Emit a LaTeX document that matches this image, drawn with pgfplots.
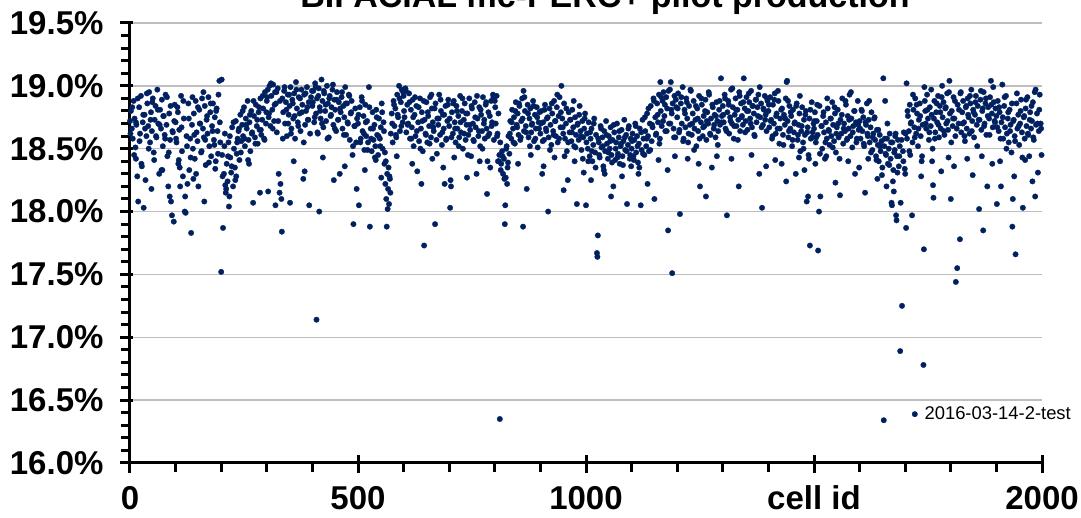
\documentclass[border=0pt]{standalone}
\usepackage{fontspec}
\setmainfont{Liberation Sans}
\usepackage{pgfplots}
\pgfplotsset{compat=1.18}
\definecolor{navy}{RGB}{0,32,96}
\definecolor{gridgray}{RGB}{190,190,190}
\pgfplotsset{dotlegend/.style={legend image code/.code={\draw[##1] plot coordinates {(0pt,0pt)};}}}
\begin{document}
\begin{tikzpicture}
\begin{axis}[
  scale only axis,
  width=912pt, height=440pt,
  xmin=0, xmax=2000, ymin=16, ymax=19.5,
  axis x line=bottom, axis y line=left,
  axis line style={line width=3pt, -},
  xtick={0,500,1000,1500,2000},
  xticklabels={0,500,1000,cell id,2000},
  ytick={16,16.5,17,17.5,18,18.5,19,19.5},
  minor x tick num=4, minor y tick num=4,
  tick align=outside,
  major tick length=10pt, minor tick length=9pt,
  every tick/.style={black, line width=3pt},
  ymajorgrids, major grid style={gridgray, line width=1.4pt},
  extra x ticks={500,1000,1500,2000},
  extra x tick style={tick align=inside, major tick length=8pt, xticklabel={}, grid=none},
  extra y ticks={16,16.5,17,17.5,18,18.5,19,19.5},
  extra y tick style={tick align=inside, major tick length=3pt, yticklabel={}, grid=none},
  scaled y ticks=false,
  /pgf/number format/assume math mode=true,
  yticklabel={\pgfmathprintnumber[fixed,fixed zerofill,precision=1]{\tick}\%},
  ticklabel style={font=\bfseries\fontsize{33}{36}\selectfont},
  yticklabel style={anchor=east, xshift=-13pt},
  xticklabel style={anchor=base, yshift=-37pt},
  clip=false,
  legend style={at={(axis description cs:0.854,0.111)}, anchor=west, draw=none, fill=none,
    font=\fontsize{18.4}{20}\selectfont, nodes={inner sep=0pt},
    /tikz/every odd column/.append style={column sep=7pt}},
  legend cell align=left,
]
\addplot[only marks, mark=*, mark size=2.75pt, color=navy, mark options={fill=navy, draw=navy, line width=0.3pt}, dotlegend]
coordinates {
(0,18.72)(2,18.80)(4,18.66)(6,18.58)(8,18.88)(10,18.74)(12,18.51)(14,18.69)(16,18.28)(18,18.08)(20,18.83)(22,18.62)(24,18.92)(26,18.36)(28,18.71)(30,18.03)(32,18.77)(34,18.25)(36,18.60)(38,18.86)(40,18.68)(42,18.95)(44,18.55)(46,18.79)(48,18.64)(50,18.90)(52,18.47)(54,18.73)(56,18.84)(58,18.59)(60,18.97)(62,18.70)(64,18.30)(66,18.81)(68,18.66)(70,18.89)(72,18.52)(74,18.76)(76,18.61)(78,18.93)(80,18.69)(82,18.44)(84,18.20)(86,18.78)(88,18.57)(90,18.08)(92,17.97)(94,18.63)(96,17.92)(98,18.85)
(100,18.71)(102,18.55)(104,18.83)(106,18.38)(108,18.65)(110,18.20)(112,18.92)(114,18.48)(116,18.28)(118,18.74)(120,18.00)(122,17.99)(124,18.60)(126,18.22)(128,18.86)(130,18.33)(132,18.58)(134,17.83)(136,18.69)(138,18.50)(140,18.78)(142,18.42)(144,18.88)(146,18.63)(148,18.56)(150,18.20)(152,18.81)(154,18.70)(156,18.47)(158,18.90)(160,18.66)(162,18.59)(164,18.84)(166,18.37)(168,18.73)(170,18.62)(172,18.91)(174,18.52)(176,18.79)(178,18.44)(180,18.68)(182,18.86)(184,18.57)(186,18.75)(188,18.40)(190,18.82)(192,18.64)(194,18.93)(196,19.04)(198,18.55)
(200,17.52)(201,19.05)(202,18.45)(204,17.87)(206,18.30)(208,18.62)(210,18.15)(212,18.38)(214,18.24)(216,18.55)(218,18.12)(220,18.43)(222,18.31)(224,18.67)(226,18.20)(228,18.50)(230,18.35)(232,18.72)(234,18.46)(236,18.58)(238,18.64)(240,18.41)(242,18.77)(244,18.56)(246,18.69)(248,18.60)(250,18.83)(252,18.52)(254,18.74)(256,18.66)(258,18.88)(260,18.57)(262,18.71)(264,18.48)(266,18.80)(268,18.63)(270,18.07)(272,18.76)(274,18.59)(276,18.85)(278,18.68)(280,18.54)(282,18.79)(284,18.65)(286,18.90)(288,18.61)(290,18.73)(292,18.82)(294,18.58)(296,18.95)(298,18.70)
(300,18.88)(302,18.97)(304,18.75)(306,19.00)(308,18.68)(310,18.92)(312,18.81)(314,19.01)(316,18.72)(318,18.95)(320,18.86)(322,18.63)(324,18.98)(326,18.30)(328,18.15)(330,18.22)(332,18.10)(333,17.84)(334,18.90)(336,18.79)(338,18.96)(340,18.70)(342,18.87)(344,18.60)(346,18.93)(348,18.77)(350,18.84)(351,18.07)(352,18.99)(354,18.66)(356,18.89)(358,18.74)(360,18.94)(362,18.58)(364,19.03)(366,18.82)(368,18.71)(370,18.91)(372,18.78)(374,18.64)(376,18.97)(378,18.85)(380,18.26)(382,18.93)(384,18.69)(386,18.80)(388,18.99)(390,18.73)(392,18.87)(393,18.05)(395,18.62)(397,18.91)
(400,18.84)(402,18.96)(404,18.71)(406,19.02)(408,18.78)(409,17.14)(410,18.90)(412,18.62)(414,18.98)(415,18.00)(416,18.83)(418,18.74)(420,19.05)(422,18.88)(424,18.67)(426,18.94)(428,18.80)(430,18.72)(432,19.00)(434,18.86)(436,18.59)(438,18.92)(440,18.76)(442,18.83)(444,18.97)(446,18.69)(448,18.89)(450,18.81)(452,18.64)(454,18.95)(456,18.73)(458,18.87)(460,18.30)(462,18.79)(464,18.91)(466,18.66)(468,18.84)(470,18.75)(472,18.99)(474,18.61)(476,18.86)(478,18.70)(480,18.93)(482,18.57)(484,18.78)(486,18.88)(488,18.45)(490,17.90)(492,18.68)(494,18.82)(496,18.55)(498,18.74)
(500,18.70)(502,18.05)(504,18.83)(506,18.58)(508,18.91)(510,18.64)(512,18.76)(514,18.49)(516,18.85)(518,18.60)(520,18.72)(522,18.55)(524,18.99)(526,17.88)(528,18.66)(530,18.48)(532,18.79)(534,18.57)(536,18.69)(538,18.52)(540,18.81)(542,18.61)(544,18.45)(546,18.74)(548,18.58)(550,18.67)(552,18.86)(554,18.50)(556,18.71)(558,18.38)(560,18.22)(561,18.40)(562,18.10)(563,17.88)(564,18.30)(565,18.02)(566,18.18)(567,18.35)(568,18.06)(570,18.26)(572,18.62)(574,18.78)(576,18.55)(578,18.88)(580,18.68)(582,18.82)(584,18.59)(586,18.93)(588,18.75)(590,19.00)(592,18.64)(594,18.87)(596,18.97)(598,18.71)
(600,18.92)(602,18.75)(604,18.98)(606,18.63)(608,18.85)(610,18.70)(612,18.94)(614,18.58)(616,18.81)(618,18.67)(620,18.89)(622,18.52)(624,18.77)(626,18.60)(628,18.84)(630,18.32)(632,18.71)(634,18.56)(636,18.90)(638,18.66)(640,18.79)(642,18.48)(645,17.73)(646,18.73)(648,18.62)(650,18.87)(652,18.55)(654,18.76)(656,18.68)(658,18.91)(660,18.59)(662,18.82)(664,18.71)(666,18.64)(669,17.90)(670,18.86)(672,18.57)(674,18.74)(676,18.69)(678,18.93)(680,18.61)(682,18.80)(684,18.53)(686,18.77)(688,18.66)(690,18.22)(692,18.84)(694,18.58)(696,18.72)(698,18.89)
(700,18.68)(702,18.03)(703,18.25)(704,18.20)(706,18.79)(708,18.62)(710,18.88)(712,18.71)(714,18.55)(716,18.84)(718,18.66)(720,18.76)(722,18.59)(724,18.92)(726,18.63)(728,18.80)(730,18.50)(732,18.73)(734,18.86)(736,18.57)(738,18.69)(740,18.78)(742,18.61)(744,18.90)(746,18.65)(748,18.44)(750,18.82)(752,18.70)(754,18.56)(756,18.87)(758,18.67)(760,18.30)(762,18.74)(764,18.60)(766,18.83)(768,18.52)(770,18.77)(772,18.64)(774,18.91)(776,18.70)(778,18.58)(780,18.85)(782,18.66)(784,18.40)(786,18.79)(788,18.62)(790,18.35)(792,18.88)(794,18.71)(796,18.93)(798,18.57)
(800,18.88)(802,18.70)(804,18.92)(806,18.62)(808,18.78)(810,18.45)(811,16.35)(812,18.55)(814,18.38)(816,18.48)(818,18.30)(820,18.42)(822,17.90)(823,18.05)(824,18.27)(826,18.52)(828,18.35)(830,18.60)(832,18.46)(834,18.72)(836,18.58)(838,18.81)(840,18.66)(842,18.75)(844,18.54)(846,18.87)(848,18.69)(850,18.78)(852,18.61)(854,18.84)(856,18.57)(858,18.72)(860,18.90)(862,17.88)(863,18.96)(864,18.64)(866,18.80)(868,18.68)(870,18.18)(872,18.85)(874,18.59)(876,18.74)(878,18.82)(880,18.63)(882,18.70)(884,18.88)(886,18.56)(888,18.77)(890,18.66)(892,18.83)(894,18.51)(896,18.71)(898,18.79)
(900,18.62)(902,18.80)(904,18.30)(906,18.71)(908,18.57)(910,18.85)(912,18.66)(914,18.74)(917,18.00)(918,18.59)(920,18.82)(922,18.69)(924,18.53)(926,18.78)(928,18.64)(930,18.88)(932,18.72)(934,18.60)(936,18.83)(938,18.55)(940,18.76)(942,18.91)(944,18.67)(946,19.00)(948,18.74)(950,18.62)(952,18.86)(954,18.58)(956,18.70)(958,18.48)(960,18.25)(962,18.79)(964,18.63)(966,18.73)(968,18.56)(970,18.81)(972,18.67)(974,18.52)(976,18.75)(978,18.61)(980,18.06)(982,18.70)(984,18.57)(986,18.84)(988,18.64)(990,18.49)(992,18.72)(994,18.59)(996,18.66)(998,18.78)
(1000,18.05)(1002,18.62)(1004,18.50)(1006,18.71)(1008,18.44)(1010,18.58)(1012,18.66)(1014,18.40)(1016,18.53)(1018,18.74)(1020,18.47)(1022,18.61)(1024,17.67)(1025,17.64)(1026,17.81)(1028,18.55)(1030,18.43)(1032,18.68)(1034,18.51)(1036,18.59)(1038,18.36)(1040,18.64)(1042,18.48)(1044,18.72)(1046,18.54)(1048,18.42)(1050,18.60)(1052,18.50)(1054,18.67)(1056,18.45)(1058,18.57)(1060,18.20)(1062,18.63)(1064,18.41)(1066,18.55)(1068,18.70)(1070,18.46)(1072,18.59)(1074,18.38)(1076,18.52)(1078,18.65)(1080,18.44)(1082,18.56)(1084,18.73)(1086,18.49)(1088,18.61)(1090,18.06)(1092,18.53)(1094,18.68)(1096,18.42)(1098,18.58)
(1100,18.50)(1102,18.62)(1104,18.44)(1106,18.57)(1108,18.70)(1110,18.47)(1112,18.60)(1114,18.39)(1116,18.54)(1118,18.66)(1120,18.05)(1122,18.49)(1124,18.73)(1126,18.58)(1128,18.45)(1130,18.64)(1132,18.52)(1134,18.78)(1136,18.60)(1138,18.48)(1140,18.70)(1142,18.84)(1144,18.56)(1146,18.67)(1148,18.90)(1150,18.10)(1152,18.75)(1154,18.62)(1156,18.86)(1158,18.71)(1160,18.93)(1162,18.58)(1163,19.03)(1164,18.80)(1166,18.68)(1168,18.88)(1170,18.95)(1172,18.76)(1174,18.64)(1176,18.91)(1178,18.82)(1180,17.85)(1182,18.70)(1184,18.97)(1186,19.03)(1188,18.78)(1189,17.51)(1190,18.86)(1192,18.66)(1194,18.92)(1196,18.59)(1198,18.83)
(1200,18.75)(1202,18.94)(1204,18.63)(1206,17.98)(1208,18.86)(1210,18.70)(1212,18.99)(1214,18.58)(1216,18.81)(1218,18.67)(1220,18.90)(1222,18.74)(1224,18.55)(1226,18.84)(1228,18.69)(1230,18.96)(1232,18.61)(1234,18.78)(1236,18.88)(1238,18.66)(1240,18.73)(1242,18.52)(1244,18.82)(1246,18.64)(1248,18.92)(1250,18.20)(1252,18.71)(1254,18.85)(1256,18.60)(1258,18.76)(1260,18.68)(1262,18.89)(1264,18.57)(1266,18.79)(1268,18.70)(1270,18.93)(1272,18.62)(1274,18.74)(1276,18.35)(1278,18.83)(1280,18.66)(1282,18.77)(1284,18.59)(1286,18.87)(1288,18.72)(1290,18.64)(1292,18.81)(1294,18.69)(1296,19.06)(1298,18.76)
(1300,18.84)(1302,18.71)(1304,18.93)(1306,18.66)(1309,17.97)(1310,18.79)(1312,18.88)(1314,18.62)(1316,18.75)(1318,18.97)(1320,18.70)(1322,18.83)(1324,18.58)(1326,18.77)(1328,18.90)(1330,18.68)(1332,18.81)(1334,18.73)(1336,18.95)(1338,18.64)(1340,18.86)(1342,18.76)(1344,18.69)(1346,19.06)(1348,18.82)(1350,18.72)(1352,18.91)(1354,18.65)(1356,18.80)(1358,18.87)(1360,18.74)(1362,18.96)(1364,18.67)(1366,18.84)(1368,18.78)(1370,18.60)(1372,18.89)(1374,18.71)(1376,18.83)(1378,18.93)(1380,18.30)(1382,18.75)(1384,18.86)(1386,18.03)(1388,18.69)(1390,18.81)(1392,18.92)(1394,18.77)(1396,18.64)(1398,18.88)
(1400,18.80)(1402,18.67)(1404,18.91)(1406,18.73)(1408,18.58)(1410,18.85)(1412,18.70)(1414,18.94)(1416,18.62)(1418,18.78)(1420,18.66)(1422,18.88)(1424,18.54)(1426,18.74)(1429,18.38)(1430,18.82)(1432,18.61)(1434,18.77)(1436,18.69)(1438,18.90)(1440,19.03)(1441,19.04)(1442,18.72)(1444,18.59)(1446,18.84)(1448,18.66)(1450,18.76)(1452,18.52)(1454,18.81)(1456,18.63)(1458,18.71)(1460,18.30)(1462,18.86)(1464,18.57)(1466,18.69)(1468,18.78)(1470,18.48)(1472,18.64)(1474,18.83)(1476,18.55)(1478,18.73)(1480,18.61)(1482,18.80)(1484,18.08)(1486,18.67)(1487,18.12)(1488,18.45)(1490,18.74)(1491,17.73)(1493,18.58)(1495,18.87)(1497,18.63)(1499,18.70)
(1500,18.66)(1502,18.79)(1504,18.55)(1506,18.72)(1508,18.61)(1509,17.69)(1511,18.00)(1512,18.84)(1514,18.12)(1516,18.68)(1518,18.50)(1520,18.76)(1522,18.63)(1524,18.42)(1526,18.71)(1528,18.58)(1530,18.82)(1532,18.65)(1534,18.53)(1536,18.74)(1538,18.60)(1540,18.87)(1542,18.69)(1544,18.56)(1546,18.78)(1548,18.47)(1550,18.67)(1552,18.81)(1554,18.59)(1557,18.13)(1558,18.73)(1560,18.62)(1562,18.90)(1564,18.54)(1566,18.70)(1568,18.64)(1570,18.85)(1572,18.57)(1574,18.76)(1576,18.66)(1578,18.93)(1580,18.60)(1582,18.74)(1584,18.51)(1586,18.68)(1588,18.80)(1590,18.30)(1592,18.71)(1594,18.58)(1596,18.88)(1598,18.65)
(1600,18.72)(1602,18.58)(1604,18.81)(1606,18.64)(1608,18.75)(1610,18.52)(1612,18.15)(1614,18.69)(1616,18.86)(1618,18.60)(1620,18.73)(1622,18.55)(1624,18.67)(1626,18.79)(1628,18.49)(1630,18.62)(1632,18.74)(1634,18.57)(1636,18.44)(1638,18.65)(1640,18.53)(1642,18.40)(1644,18.61)(1646,18.48)(1648,18.56)(1650,18.35)(1652,19.06)(1653,16.34)(1654,18.52)(1656,18.88)(1658,18.45)(1660,18.58)(1662,18.38)(1664,18.50)(1666,18.62)(1668,18.42)(1670,18.07)(1671,18.05)(1672,18.55)(1674,18.33)(1676,18.47)(1678,18.60)(1680,17.97)(1681,17.93)(1682,18.44)(1684,18.57)(1686,18.36)(1688,18.52)(1689,16.89)(1690,18.07)(1693,17.25)(1695,18.48)(1697,18.63)
(1700,18.30)(1702,17.87)(1703,19.02)(1704,18.58)(1706,18.76)(1708,18.64)(1710,18.85)(1712,18.70)(1715,17.97)(1716,18.55)(1718,18.81)(1720,18.67)(1722,18.90)(1724,18.62)(1726,18.78)(1728,18.52)(1730,18.73)(1732,18.86)(1734,18.60)(1736,18.40)(1738,18.69)(1740,16.78)(1741,17.70)(1742,18.99)(1744,18.80)(1746,18.66)(1748,18.93)(1750,18.74)(1752,18.57)(1754,18.83)(1756,18.68)(1758,18.77)(1760,18.50)(1761,18.21)(1762,18.11)(1764,18.88)(1766,18.63)(1768,18.79)(1770,18.71)(1772,18.92)(1774,18.59)(1776,18.84)(1778,18.66)(1781,19.00)(1782,18.75)(1784,18.87)(1786,18.61)(1788,18.82)(1790,18.70)(1792,18.94)(1794,18.65)(1797,19.04)(1798,18.78)
(1800,18.10)(1802,18.80)(1804,18.68)(1806,18.91)(1808,18.74)(1810,18.60)(1811,17.44)(1814,17.55)(1815,18.85)(1817,18.70)(1820,17.78)(1821,18.94)(1823,18.63)(1825,18.79)(1827,18.88)(1829,18.71)(1831,18.56)(1833,18.83)(1835,18.66)(1837,18.90)(1839,18.75)(1841,18.62)(1843,18.86)(1845,18.97)(1847,18.72)(1849,18.81)(1851,18.59)(1853,18.77)(1855,18.92)(1857,18.69)(1859,18.84)(1862,18.02)(1863,18.73)(1865,18.89)(1867,18.65)(1869,18.80)(1871,17.85)(1872,18.95)(1874,18.70)(1876,18.86)(1878,18.61)(1880,18.20)(1882,18.83)(1884,18.74)(1886,18.91)(1888,19.04)(1890,18.78)(1892,18.67)(1894,18.87)(1896,18.72)(1898,18.82)
(1900,18.76)(1901,18.06)(1903,18.88)(1905,18.64)(1907,18.79)(1910,18.20)(1911,18.71)(1913,19.01)(1915,18.58)(1917,18.84)(1919,18.67)(1921,18.92)(1923,18.62)(1925,18.74)(1927,18.55)(1929,18.81)(1931,18.69)(1933,18.47)(1935,17.88)(1936,18.10)(1938,18.73)(1940,18.60)(1942,17.66)(1944,18.86)(1946,18.66)(1948,18.77)(1950,18.53)(1952,18.70)(1954,18.89)(1956,18.63)(1958,18.03)(1960,18.75)(1962,18.58)(1964,18.82)(1966,18.68)(1968,18.91)(1970,18.61)(1972,18.44)(1974,18.79)(1976,18.66)(1978,18.72)(1980,18.87)(1982,18.57)(1984,18.95)(1985,18.12)(1987,18.69)(1989,18.78)(1991,18.31)(1993,18.64)(1995,18.93)(1997,18.70)
(1,18.62)(5,18.83)(9,18.45)(13,18.71)(17,18.90)(21,18.56)(25,18.38)(29,18.77)(33,18.66)(37,18.94)(41,18.50)(45,18.73)(49,18.87)(53,18.41)(57,18.60)(61,18.81)(65,18.69)(69,18.33)(73,18.76)(77,18.58)(81,18.91)(85,18.47)(89,18.84)(93,18.64)(97,18.72)
(101,18.58)(105,18.79)(109,18.35)(113,18.67)(117,18.88)(121,18.12)(125,18.52)(129,18.74)(133,18.43)(137,18.91)(141,18.61)(145,18.30)(149,18.83)(153,18.70)(157,18.48)(161,18.95)(165,18.57)(169,18.76)(173,18.39)(177,18.86)(181,18.64)(185,18.53)(189,18.80)(193,18.46)(197,18.71)
(203,18.28)(207,18.52)(211,18.18)(215,18.44)(219,18.60)(223,18.36)(227,18.71)(231,18.25)(235,18.55)(239,18.66)(243,18.47)(247,18.80)(251,18.58)(255,18.69)(259,18.41)(263,18.77)(267,18.62)(271,18.88)(275,18.54)(279,18.73)(283,18.83)(287,18.65)(291,18.92)(295,18.57)(299,18.79)
(301,18.91)(305,18.78)(309,19.02)(313,18.66)(317,18.85)(321,18.95)(325,18.72)(329,18.88)(335,18.58)(339,18.99)(343,18.81)(347,18.70)(349,18.93)(353,18.62)(357,18.86)(361,18.76)(365,18.97)(369,18.68)(373,18.90)(377,18.79)(381,18.55)(385,18.94)(389,18.83)(391,18.73)(399,18.96)
(401,18.87)(405,18.75)(407,18.99)(411,18.63)(413,18.92)(417,18.80)(421,18.70)(425,18.96)(429,18.85)(433,18.58)(437,18.90)(441,18.77)(445,19.01)(449,18.66)(453,18.89)(457,18.73)(461,18.82)(465,18.95)(469,18.61)(473,18.86)(477,18.71)(481,18.92)(485,18.79)(489,18.52)(493,18.68)
(501,18.77)(505,18.55)(509,18.88)(513,18.62)(517,18.71)(521,18.49)(525,18.83)(529,18.58)(533,18.66)(537,18.43)(541,18.75)(545,18.60)(549,18.52)(553,18.79)(557,18.64)(559,18.47)(569,18.28)(571,18.15)(575,18.70)(579,18.85)(583,18.61)(587,18.77)(591,18.90)(595,18.68)(599,18.95)
(601,18.80)(605,18.96)(609,18.69)(613,18.87)(617,18.58)(621,18.75)(625,18.91)(629,18.64)(633,18.83)(637,18.50)(641,18.72)(644,18.88)(649,18.61)(653,18.79)(657,18.54)(661,18.93)(665,18.67)(668,18.82)(673,18.46)(677,18.74)(681,18.89)(685,18.63)(689,18.77)(693,18.57)(697,18.85)
(701,18.74)(705,18.59)(709,18.86)(713,18.66)(717,18.80)(721,18.52)(725,18.71)(729,18.90)(733,18.62)(737,18.78)(741,18.45)(745,18.69)(749,18.84)(753,18.57)(757,18.75)(761,18.92)(765,18.64)(769,18.81)(773,18.50)(777,18.73)(781,18.87)(785,18.60)(789,18.76)(793,18.68)(797,18.91)
(801,18.83)(805,18.60)(809,18.40)(813,18.33)(817,18.44)(821,18.26)(825,18.50)(829,18.39)(833,18.62)(837,18.71)(841,18.55)(845,18.80)(849,18.67)(853,18.86)(857,18.59)(861,18.74)(865,18.91)(869,18.63)(873,18.78)(877,18.52)(881,18.69)(885,18.84)(889,18.58)(893,18.75)(897,18.66)
(901,18.70)(905,18.56)(909,18.81)(913,18.64)(916,18.75)(921,18.49)(925,18.86)(929,18.61)(933,18.72)(937,18.93)(941,18.58)(945,18.79)(949,18.67)(953,18.44)(957,18.82)(961,18.55)(965,18.73)(969,18.63)(973,18.88)(977,18.51)(981,18.69)(985,18.77)(989,18.60)(993,18.42)(997,18.74)
(1001,18.55)(1005,18.40)(1009,18.63)(1013,18.48)(1017,18.70)(1021,18.35)(1027,18.58)(1029,18.45)(1033,18.66)(1037,18.52)(1041,18.30)(1045,18.61)(1049,18.47)(1053,18.56)(1057,18.39)(1061,18.69)(1065,18.50)(1069,18.43)(1073,18.64)(1077,18.54)(1081,18.37)(1085,18.59)(1089,18.48)(1093,18.66)(1097,18.45)
(1101,18.56)(1105,18.41)(1109,18.68)(1113,18.52)(1117,18.35)(1121,18.63)(1125,18.46)(1129,18.75)(1133,18.58)(1137,18.82)(1141,18.49)(1145,18.69)(1149,18.88)(1153,18.61)(1157,18.77)(1161,18.54)(1165,18.91)(1169,18.72)(1173,18.85)(1177,18.64)(1181,18.96)(1185,18.70)(1187,18.81)(1193,18.59)(1197,18.89)
(1201,18.82)(1205,18.65)(1209,18.91)(1213,18.56)(1217,18.78)(1221,18.87)(1225,18.62)(1229,18.97)(1233,18.70)(1237,18.49)(1241,18.84)(1245,18.74)(1249,18.58)(1253,18.90)(1257,18.67)(1261,18.80)(1265,18.72)(1269,18.95)(1273,18.61)(1277,18.85)(1281,18.69)(1285,18.76)(1289,18.53)(1293,18.88)(1297,18.71)
(1301,18.77)(1305,18.90)(1308,18.64)(1313,18.85)(1317,18.72)(1321,18.98)(1325,18.68)(1329,18.81)(1333,18.57)(1337,18.92)(1341,18.75)(1345,18.87)(1349,18.63)(1353,18.80)(1357,18.94)(1361,18.70)(1365,18.84)(1369,18.61)(1373,18.89)(1377,18.76)(1381,18.99)(1385,18.67)(1389,18.82)(1393,18.73)(1397,18.90)
(1401,18.85)(1405,18.72)(1409,18.60)(1413,18.89)(1417,18.76)(1421,18.96)(1425,18.66)(1428,18.81)(1433,18.53)(1437,18.74)(1443,18.88)(1445,18.64)(1449,18.79)(1453,18.57)(1457,18.70)(1461,18.84)(1465,18.61)(1469,18.92)(1473,18.68)(1477,18.50)(1481,18.77)(1485,18.63)(1489,18.42)(1492,18.81)(1496,18.59)
(1501,18.72)(1505,18.59)(1507,18.85)(1513,18.46)(1517,18.68)(1521,18.79)(1525,18.55)(1529,18.90)(1533,18.64)(1537,18.74)(1541,18.51)(1545,18.83)(1549,18.62)(1553,18.70)(1556,18.42)(1561,18.77)(1565,18.66)(1569,18.88)(1573,18.58)(1577,18.73)(1581,18.95)(1585,18.63)(1589,18.80)(1593,18.55)(1597,18.69)
(1601,18.66)(1605,18.80)(1609,18.54)(1613,18.71)(1617,18.62)(1621,18.88)(1625,18.47)(1629,18.59)(1633,18.75)(1637,18.41)(1641,18.65)(1645,18.52)(1649,18.29)(1655,18.58)(1657,18.46)(1661,18.70)(1665,18.37)(1669,18.55)(1673,18.24)(1677,18.49)(1679,18.62)(1683,18.31)(1687,18.44)(1692,18.57)(1696,18.40)
(1701,18.62)(1705,18.80)(1709,18.48)(1713,18.71)(1717,18.93)(1721,18.59)(1725,18.85)(1729,18.66)(1733,18.76)(1737,18.44)(1743,18.88)(1745,18.70)(1749,18.81)(1753,18.63)(1757,18.97)(1763,18.74)(1765,18.58)(1769,18.86)(1773,18.69)(1777,18.79)(1780,18.91)(1785,18.64)(1789,18.83)(1793,18.72)(1796,18.95)
(1801,18.55)(1805,18.74)(1809,18.88)(1813,18.66)(1818,18.81)(1822,18.95)(1826,18.70)(1830,18.60)(1834,18.84)(1838,18.77)(1842,18.92)(1846,18.64)(1850,18.79)(1854,18.87)(1858,18.52)(1861,18.73)(1866,18.96)(1870,18.82)(1873,18.68)(1877,18.90)(1881,18.76)(1885,18.61)(1889,18.85)(1893,18.99)(1897,18.71)
(1902,18.67)(1906,18.83)(1909,18.58)(1914,18.75)(1918,18.91)(1922,18.50)(1926,18.79)(1930,18.64)(1934,18.86)(1937,18.72)(1941,18.56)(1945,18.94)(1949,18.68)(1953,18.80)(1957,18.43)(1961,18.76)(1965,18.89)(1969,18.62)(1973,18.73)(1977,18.84)(1981,18.59)(1986,18.97)(1990,18.70)(1994,18.81)(1998,18.66)
(13,18.42)(47,18.18)(71,18.33)(87,18.12)(107,18.41)(139,18.26)(163,18.08)(187,18.34)(209,18.21)(217,18.04)(233,18.28)(261,18.38)(285,18.15)(303,18.16)(319,18.05)(359,18.40)(383,18.32)(423,18.43)(447,18.25)(471,18.36)(497,18.18)(515,18.33)(539,18.41)(551,18.27)(585,18.44)(619,18.38)(639,18.22)(663,18.42)(687,18.35)(711,18.43)(739,18.27)(767,18.40)(783,18.14)(807,18.40)(827,18.22)(851,18.38)(879,18.45)(907,18.36)(931,18.43)(951,18.17)(975,18.40)(995,18.31)(1011,18.25)(1039,18.33)(1055,18.12)(1079,18.28)(1099,18.36)(1115,18.30)(1135,18.22)(1159,18.41)(1179,18.33)(1195,18.44)(1223,18.42)(1247,18.38)(1263,18.12)(1287,18.44)(1319,18.42)(1335,18.20)(1363,18.45)(1395,18.36)(1415,18.41)(1439,18.24)(1467,18.43)(1479,18.33)(1503,18.38)(1527,18.44)(1547,18.23)(1575,18.40)(1599,18.35)(1619,18.42)(1639,18.26)(1659,18.20)(1675,18.16)(1699,18.34)(1711,18.45)(1735,18.28)(1759,18.40)(1779,18.32)(1795,18.43)(1807,18.36)(1836,18.42)(1848,18.29)(1868,18.44)(1891,18.38)(1908,18.40)(1939,18.28)(1963,18.41)(1979,18.24)(1999,18.45)
};
\addlegendentry{2016-03-14-2-test}
\end{axis}
\node[anchor=base, font=\bfseries\fontsize{34}{38}\selectfont] at (475pt,455.5pt) {BIFACIAL mc-PERC+ pilot production};
\pgfresetboundingbox
\path[use as bounding box] (-130pt,-55pt) rectangle (951pt,463pt);
\end{tikzpicture}
\end{document}
